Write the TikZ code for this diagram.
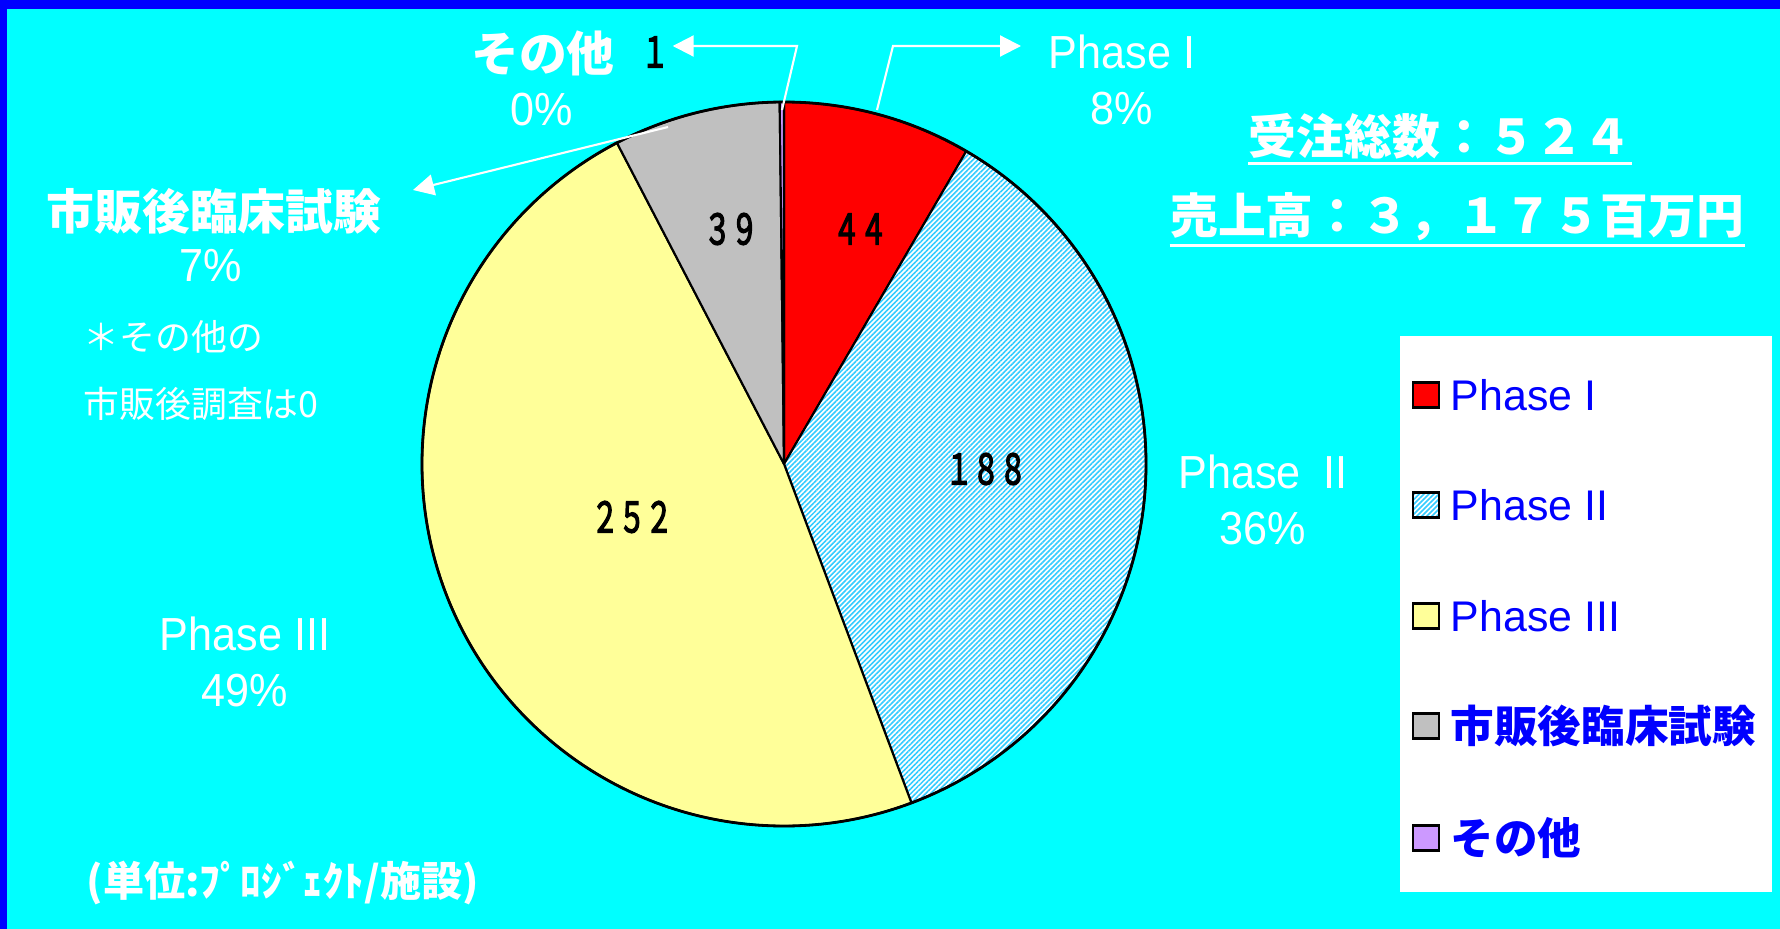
\documentclass[tikz,border=0pt]{standalone}
\usepackage{fontspec}
\setmainfont{Liberation Sans}
\newfontfamily\jpfont{Noto Sans CJK JP}
\newfontfamily\labfont[FakeStretch=0.93]{Liberation Sans}
\newfontfamily\numfont[FakeStretch=0.64,FakeBold=3]{Noto Sans CJK JP}
\usetikzlibrary{arrows.meta,patterns.meta}
\definecolor{bgcyan}{RGB}{0,255,255}
\definecolor{edgeblue}{RGB}{0,0,255}
\definecolor{phaseone}{RGB}{255,0,0}
\definecolor{hatchblue}{RGB}{51,204,255}
\definecolor{phasethree}{RGB}{255,255,153}
\definecolor{postmkt}{RGB}{192,192,192}
\definecolor{others}{RGB}{204,153,255}
\tikzset{
  slice/.style={draw=black, line width=0.6pt, line join=round},
  hatch/.style={preaction={fill=white}, pattern={Lines[angle=45,distance=1pt,line width=0.45pt]}, pattern color=hatchblue},
  pct/.style={text=white, align=center, inner sep=1pt, font=\labfont\fontsize{13.2pt}{15.9pt}\selectfont},
  jpbold/.style={text=white, inner sep=1pt, font=\jpfont\bfseries\fontsize{13.6pt}{16pt}\selectfont},
  note/.style={text=white, anchor=west, inner sep=0pt, font=\jpfont\fontsize{10.2pt}{12pt}\selectfont},
  count/.style={inner sep=1pt, font=\numfont\fontsize{12pt}{14pt}\selectfont},
  leader/.style={draw=white, line width=0.6pt, -{Triangle[length=2.1mm,width=2.1mm]}},
  total/.style={text=white, inner sep=0pt, font=\jpfont\bfseries\fontsize{13.6pt}{16pt}\selectfont},
  underl/.style={draw=white, line width=0.8pt},
  swatch/.style={draw=black, line width=0.6pt, minimum width=2.6mm, minimum height=2.5mm, inner sep=0pt},
  legtext/.style={text=edgeblue, anchor=west, inner sep=0pt, font=\fontsize{12.2pt}{14pt}\selectfont},
  legjp/.style={text=edgeblue, anchor=west, inner sep=0pt, font=\jpfont\bfseries\fontsize{12.4pt}{14pt}\selectfont},
}
\begin{document}
\begin{tikzpicture}[x=0.1mm,y=0.1mm]
\fill[edgeblue] (0,0) rectangle (1780,-929);
\fill[bgcyan] (7,-9) rectangle (1780,-929);
\useasboundingbox (0,0) rectangle (1780,-929);

% pie: 44, 188, 252, 39, 1 of 524
\coordinate (c) at (784,-464);
\draw[slice, fill=phaseone] (c) -- ++(90:362) arc[start angle=90, end angle=59.771, radius=362] -- cycle;
\draw[slice, hatch] (c) -- ++(59.771:362) arc[start angle=59.771, end angle=-69.389, radius=362] -- cycle;
\draw[slice, fill=phasethree] (c) -- ++(-69.389:362) arc[start angle=-69.389, end angle=-242.519, radius=362] -- cycle;
\draw[slice, fill=postmkt] (c) -- ++(-242.519:362) arc[start angle=-242.519, end angle=-269.313, radius=362] -- cycle;
\draw[slice, fill=others] (c) -- ++(-269.313:362) arc[start angle=-269.313, end angle=-270, radius=362] -- cycle;
\draw[line width=0.8pt] (c) circle[radius=362];

\node[count] (n44) at (860,-229) {４４};
\node[count] (n188) at (986,-469) {１８８};
\node[count] (n252) at (632,-517) {２５２};
\node[count] (n39) at (731,-229) {３９};
\node[count] (n1) at (655,-52) {１};

\node[pct] (p1) at (1122,-80) {Phase I\\8\%};
\node[pct] (p2) at (1263,-500) {Phase\enspace II\\36\%};
\node[pct] (p3) at (245,-662) {Phase III\\49\%};
\node[jpbold] (pm) at (214,-211) {市販後臨床試験};
\node[pct] (pmpct) at (211,-266) {7\%};
\node[jpbold] (oth) at (543,-53) {その他};
\node[pct] (othpct) at (542,-110) {0\%};

\node[note] (note1) at (83,-337) {＊その他の};
\node[note] (note2) at (83,-404) {市販後調査は0};
\node[text=white, anchor=west, inner sep=0pt, font=\jpfont\bfseries\fontsize{11.7pt}{14pt}\selectfont] (unit) at (86,-883) {(単位:ﾌﾟﾛｼﾞｪｸﾄ/施設)};

% leaders
\coordinate (othpt) at (782,-110);
\coordinate (othbend) at (797,-46);
\draw[leader] (othpt) -- (othbend) -- (othbend -| n1.east);
\coordinate (p1pt) at (877,-110);
\coordinate (p1bend) at (893,-46);
\coordinate (p1tip) at (1021,-46);
\draw[leader] (p1pt) -- (p1bend) -- (p1tip);
\coordinate (pmpt) at (668,-127);
\coordinate (pmtip) at (413,-190);
\draw[leader] (pmpt) -- (pmtip);

% totals
\node[total] (orders) at (1440,-136) {受注総数：５２４};
\draw[underl] ([yshift=-0.4mm]orders.south west) -- ([yshift=-0.4mm]orders.south east);
\node[total] (sales) at (1457,-217) {売上高：３，１７５百万円};
\draw[underl] ([yshift=-0.4mm]sales.south west) -- ([yshift=-0.4mm]sales.south east);

% legend
\fill[white] (1400,-336) rectangle (1772,-892);
\node[swatch, fill=phaseone] (k1) at (1426,-395) {};
\node[legtext] (l1) at (1450,-395) {Phase I};
\node[swatch, hatch] (k2) at (1426,-505) {};
\node[legtext] (l2) at (1450,-505) {Phase II};
\node[swatch, fill=phasethree] (k3) at (1426,-616) {};
\node[legtext] (l3) at (1450,-616) {Phase III};
\node[swatch, fill=postmkt] (k4) at (1426,-726) {};
\node[legjp] (l4) at (1450,-726) {市販後臨床試験};
\node[swatch, fill=others] (k5) at (1426,-838) {};
\node[legjp] (l5) at (1450,-838) {その他};
\end{tikzpicture}
\end{document}
